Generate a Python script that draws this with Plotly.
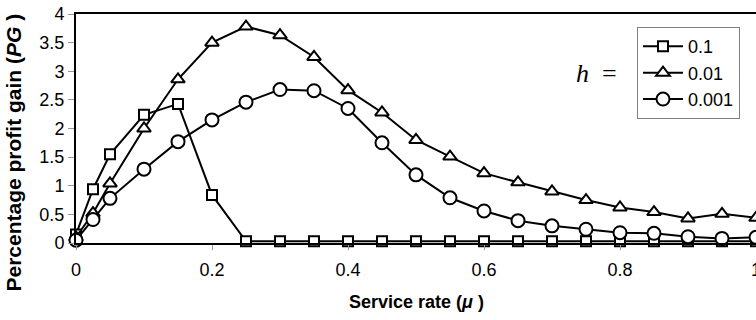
import plotly.graph_objects as go

mu = [0, 0.025, 0.05, 0.1, 0.15, 0.2, 0.25, 0.3, 0.35, 0.4, 0.45, 0.5, 0.55,
      0.6, 0.65, 0.7, 0.75, 0.8, 0.85, 0.9, 0.95, 1.0]

pg_h01 = [0.15, 0.94, 1.55, 2.24, 2.43, 0.84, 0.03, 0.03, 0.03, 0.03, 0.03, 0.03,
          0.03, 0.03, 0.03, 0.03, 0.03, 0.03, 0.03, 0.03, 0.03, 0.03]
pg_h001 = [0.10, 0.52, 1.04, 2.00, 2.86, 3.50, 3.78, 3.63, 3.25, 2.67, 2.28, 1.80,
           1.51, 1.22, 1.06, 0.90, 0.75, 0.62, 0.54, 0.43, 0.51, 0.44]
pg_h0001 = [0.05, 0.41, 0.78, 1.29, 1.77, 2.15, 2.46, 2.68, 2.66, 2.35, 1.75, 1.19,
            0.79, 0.56, 0.39, 0.30, 0.24, 0.18, 0.17, 0.11, 0.08, 0.10]

series_names = ["0.1", "0.01", "0.001"]
series_values = [pg_h01, pg_h001, pg_h0001]
symbols = ["square", "triangle-up", "circle"]
sizes = [10, 12, 13]

x_ticks = [0, 0.2, 0.4, 0.6, 0.8, 1]
x_ticktext = ["0", "0.2", "0.4", "0.6", "0.8", "1"]
y_ticks = [0, 0.5, 1, 1.5, 2, 2.5, 3, 3.5, 4]
y_ticktext = ["0", "0.5", "1", "1.5", "2", "2.5", "3", "3.5", "4"]

FONT = "Liberation Sans, Arial, sans-serif"

fig = go.Figure()
for name, vals, sym, sz in zip(series_names, series_values, symbols, sizes):
    fig.add_trace(go.Scatter(
        x=mu, y=vals, name=name, mode="lines+markers",
        line=dict(color="black", width=2),
        marker=dict(symbol=sym, size=sz, color="white",
                    line=dict(color="black", width=2)),
        cliponaxis=False,
    ))

fig.update_layout(
    width=756, height=320,
    margin=dict(l=76, r=0, t=14, b=77, autoexpand=False),
    plot_bgcolor="white", paper_bgcolor="white",
    font=dict(family=FONT, size=18, color="black"),
    showlegend=True,
    legend=dict(
        x=0.825, y=0.943, xanchor="left", yanchor="top",
        bordercolor="#808080", borderwidth=1, bgcolor="white",
        font=dict(family=FONT, size=18, color="black"),
        itemwidth=40, tracegroupgap=0,
    ),
    xaxis=dict(
        range=[0, 1], tickvals=x_ticks, ticktext=x_ticktext,
        showgrid=False, zeroline=False, automargin=False,
        showline=True, linecolor="black", linewidth=2, mirror=True,
        ticks="outside", ticklen=5, tickcolor="#999999", tickwidth=1,
        ticklabelstandoff=4, ticklabeloverflow="allow",
        tickfont=dict(family=FONT, size=18, color="black"),
    ),
    yaxis=dict(
        range=[0, 4], tickvals=y_ticks, ticktext=y_ticktext,
        showgrid=False, zeroline=False, automargin=False,
        showline=True, linecolor="black", linewidth=2,
        ticks="outside", ticklen=6, tickcolor="#999999", tickwidth=1,
        ticklabeloverflow="allow",
        tickfont=dict(family=FONT, size=18, color="black"),
    ),
    annotations=[
        dict(text="<b>Service rate (<i>μ</i> )</b>", xref="paper", yref="paper",
             x=0.5, y=-0.258, xanchor="center", yanchor="middle",
             showarrow=False, font=dict(family=FONT, size=18, color="black")),
        dict(text="<b>Percentage profit gain (<i>PG</i> )</b>", xref="paper", yref="paper",
             x=-0.092, y=0.397, xanchor="center", yanchor="middle", textangle=-90,
             showarrow=False, font=dict(family=FONT, size=21, color="black")),
        dict(text="<i>h</i>  =", xref="paper", yref="paper",
             x=0.765, y=0.742, xanchor="center", yanchor="middle",
             showarrow=False, font=dict(family="Liberation Serif, serif", size=26, color="black")),
    ],
)

fig.write_html("out.html", config={"displayModeBar": False},
               post_script="document.body.style.margin='0px';")
